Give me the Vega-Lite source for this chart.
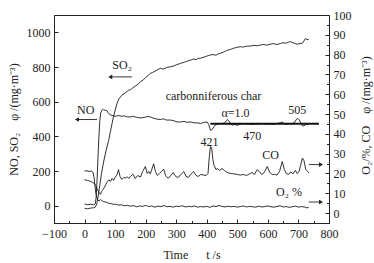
{
  "$schema": "https://vega.github.io/schema/vega-lite/v6.json",
  "width": 275,
  "height": 208,
  "autosize": {"type": "none"},
  "padding": {"left": 54, "top": 15, "right": 45, "bottom": 40},
  "background": "white",
  "config": {
    "view": {"stroke": "#222", "strokeWidth": 1},
    "font": "Liberation Serif",
    "axis": {
      "domainColor": "#222", "tickColor": "#222", "labelColor": "#222", "titleColor": "#222",
      "labelFont": "Liberation Serif", "titleFont": "Liberation Serif",
      "labelFontSize": 12, "titleFontSize": 12, "titleFontWeight": "normal",
      "grid": false, "labelOverlap": false, "labelFlush": false, "labelBound": false
    }
  },
  "datasets": {
    "left": [
      {"s":"SO2","t":0,"v":-15},{"s":"SO2","t":10,"v":-18},{"s":"SO2","t":20,"v":-14},{"s":"SO2","t":30,"v":-12},{"s":"SO2","t":35,"v":-8},{"s":"SO2","t":40,"v":10},{"s":"SO2","t":45,"v":60},{"s":"SO2","t":50,"v":120},{"s":"SO2","t":55,"v":180},{"s":"SO2","t":60,"v":230},{"s":"SO2","t":65,"v":275},{"s":"SO2","t":70,"v":315},{"s":"SO2","t":75,"v":350},{"s":"SO2","t":79,"v":377},{"s":"SO2","t":85,"v":430},{"s":"SO2","t":90,"v":474},{"s":"SO2","t":95,"v":515},{"s":"SO2","t":100,"v":551},{"s":"SO2","t":106,"v":589},{"s":"SO2","t":112,"v":615},{"s":"SO2","t":122,"v":637},{"s":"SO2","t":133,"v":650},{"s":"SO2","t":144,"v":666},{"s":"SO2","t":150,"v":668},{"s":"SO2","t":158,"v":680},{"s":"SO2","t":166,"v":690},{"s":"SO2","t":175,"v":700},{"s":"SO2","t":183,"v":715},{"s":"SO2","t":192,"v":725},{"s":"SO2","t":200,"v":740},{"s":"SO2","t":208,"v":750},{"s":"SO2","t":215,"v":763},{"s":"SO2","t":222,"v":768},{"s":"SO2","t":230,"v":775},{"s":"SO2","t":240,"v":785},{"s":"SO2","t":248,"v":792},{"s":"SO2","t":258,"v":788},{"s":"SO2","t":268,"v":797},{"s":"SO2","t":281,"v":801},{"s":"SO2","t":290,"v":805},{"s":"SO2","t":300,"v":812},{"s":"SO2","t":314,"v":821},{"s":"SO2","t":322,"v":825},{"s":"SO2","t":330,"v":830},{"s":"SO2","t":340,"v":836},{"s":"SO2","t":347,"v":840},{"s":"SO2","t":357,"v":846},{"s":"SO2","t":365,"v":842},{"s":"SO2","t":372,"v":850},{"s":"SO2","t":379,"v":850},{"s":"SO2","t":388,"v":856},{"s":"SO2","t":396,"v":860},{"s":"SO2","t":405,"v":866},{"s":"SO2","t":412,"v":869},{"s":"SO2","t":420,"v":872},{"s":"SO2","t":430,"v":868},{"s":"SO2","t":438,"v":876},{"s":"SO2","t":445,"v":879},{"s":"SO2","t":455,"v":886},{"s":"SO2","t":465,"v":895},{"s":"SO2","t":478,"v":902},{"s":"SO2","t":488,"v":908},{"s":"SO2","t":497,"v":913},{"s":"SO2","t":510,"v":917},{"s":"SO2","t":520,"v":915},{"s":"SO2","t":530,"v":920},{"s":"SO2","t":543,"v":921},{"s":"SO2","t":555,"v":925},{"s":"SO2","t":565,"v":922},{"s":"SO2","t":576,"v":927},{"s":"SO2","t":585,"v":930},{"s":"SO2","t":596,"v":926},{"s":"SO2","t":609,"v":932},{"s":"SO2","t":618,"v":935},{"s":"SO2","t":630,"v":930},{"s":"SO2","t":642,"v":936},{"s":"SO2","t":650,"v":940},{"s":"SO2","t":660,"v":937},{"s":"SO2","t":668,"v":944},{"s":"SO2","t":674,"v":946},{"s":"SO2","t":682,"v":940},{"s":"SO2","t":690,"v":935},{"s":"SO2","t":696,"v":931},{"s":"SO2","t":705,"v":936},{"s":"SO2","t":712,"v":936},{"s":"SO2","t":718,"v":950},{"s":"SO2","t":723,"v":965},{"s":"SO2","t":728,"v":957},{"s":"SO2","t":734,"v":960},
      {"s":"NO","t":0,"v":10},{"s":"NO","t":10,"v":5},{"s":"NO","t":20,"v":8},{"s":"NO","t":30,"v":5},{"s":"NO","t":35,"v":10},{"s":"NO","t":38,"v":50},{"s":"NO","t":41,"v":150},{"s":"NO","t":44,"v":280},{"s":"NO","t":47,"v":400},{"s":"NO","t":50,"v":490},{"s":"NO","t":53,"v":535},{"s":"NO","t":57,"v":551},{"s":"NO","t":62,"v":555},{"s":"NO","t":67,"v":550},{"s":"NO","t":73,"v":548},{"s":"NO","t":78,"v":535},{"s":"NO","t":84,"v":523},{"s":"NO","t":90,"v":521},{"s":"NO","t":100,"v":515},{"s":"NO","t":110,"v":520},{"s":"NO","t":120,"v":516},{"s":"NO","t":130,"v":518},{"s":"NO","t":140,"v":512},{"s":"NO","t":150,"v":512},{"s":"NO","t":160,"v":515},{"s":"NO","t":170,"v":510},{"s":"NO","t":183,"v":506},{"s":"NO","t":195,"v":509},{"s":"NO","t":205,"v":514},{"s":"NO","t":215,"v":512},{"s":"NO","t":225,"v":505},{"s":"NO","t":235,"v":500},{"s":"NO","t":248,"v":497},{"s":"NO","t":258,"v":501},{"s":"NO","t":268,"v":494},{"s":"NO","t":281,"v":494},{"s":"NO","t":292,"v":490},{"s":"NO","t":303,"v":483},{"s":"NO","t":314,"v":483},{"s":"NO","t":325,"v":486},{"s":"NO","t":336,"v":481},{"s":"NO","t":347,"v":483},{"s":"NO","t":358,"v":478},{"s":"NO","t":368,"v":478},{"s":"NO","t":379,"v":474},{"s":"NO","t":390,"v":480},{"s":"NO","t":401,"v":483},{"s":"NO","t":406,"v":470},{"s":"NO","t":412,"v":435},{"s":"NO","t":418,"v":440},{"s":"NO","t":423,"v":455},{"s":"NO","t":428,"v":465},{"s":"NO","t":434,"v":470},{"s":"NO","t":442,"v":474},{"s":"NO","t":450,"v":472},{"s":"NO","t":458,"v":478},{"s":"NO","t":464,"v":490},{"s":"NO","t":467,"v":497},{"s":"NO","t":472,"v":490},{"s":"NO","t":478,"v":470},{"s":"NO","t":485,"v":465},{"s":"NO","t":492,"v":468},{"s":"NO","t":500,"v":464},{"s":"NO","t":510,"v":470},{"s":"NO","t":520,"v":474},{"s":"NO","t":530,"v":470},{"s":"NO","t":540,"v":472},{"s":"NO","t":550,"v":468},{"s":"NO","t":560,"v":472},{"s":"NO","t":570,"v":470},{"s":"NO","t":580,"v":474},{"s":"NO","t":592,"v":470},{"s":"NO","t":605,"v":472},{"s":"NO","t":618,"v":470},{"s":"NO","t":630,"v":474},{"s":"NO","t":640,"v":478},{"s":"NO","t":647,"v":483},{"s":"NO","t":653,"v":474},{"s":"NO","t":660,"v":470},{"s":"NO","t":670,"v":474},{"s":"NO","t":680,"v":472},{"s":"NO","t":688,"v":482},{"s":"NO","t":694,"v":500},{"s":"NO","t":698,"v":503},{"s":"NO","t":703,"v":494},{"s":"NO","t":708,"v":475},{"s":"NO","t":712,"v":462},{"s":"NO","t":718,"v":460},{"s":"NO","t":724,"v":468},{"s":"NO","t":730,"v":472},{"s":"NO","t":734,"v":470}
    ],
    "right": [
      {"s":"CO","t":0,"v":16.8},{"s":"CO","t":10,"v":16.5},{"s":"CO","t":20,"v":16},{"s":"CO","t":30,"v":15.2},{"s":"CO","t":36,"v":14},{"s":"CO","t":42,"v":12},{"s":"CO","t":48,"v":10},{"s":"CO","t":52,"v":9.5},{"s":"CO","t":56,"v":11},{"s":"CO","t":60,"v":11.8},{"s":"CO","t":65,"v":13},{"s":"CO","t":70,"v":14.5},{"s":"CO","t":75,"v":16},{"s":"CO","t":79,"v":16.8},{"s":"CO","t":85,"v":16},{"s":"CO","t":90,"v":17.5},{"s":"CO","t":95,"v":16.5},{"s":"CO","t":100,"v":18},{"s":"CO","t":106,"v":19.3},{"s":"CO","t":111,"v":21.9},{"s":"CO","t":116,"v":18.5},{"s":"CO","t":122,"v":17},{"s":"CO","t":128,"v":18},{"s":"CO","t":133,"v":17.7},{"s":"CO","t":140,"v":18.3},{"s":"CO","t":145,"v":17.5},{"s":"CO","t":150,"v":18.5},{"s":"CO","t":158,"v":19.7},{"s":"CO","t":166,"v":17.5},{"s":"CO","t":174,"v":19},{"s":"CO","t":183,"v":18.2},{"s":"CO","t":190,"v":21},{"s":"CO","t":199,"v":23.5},{"s":"CO","t":205,"v":20},{"s":"CO","t":210,"v":21},{"s":"CO","t":215,"v":19.8},{"s":"CO","t":220,"v":22},{"s":"CO","t":226,"v":24.9},{"s":"CO","t":232,"v":21},{"s":"CO","t":238,"v":19},{"s":"CO","t":245,"v":20},{"s":"CO","t":252,"v":21},{"s":"CO","t":259,"v":22.2},{"s":"CO","t":265,"v":19},{"s":"CO","t":270,"v":18},{"s":"CO","t":275,"v":17.7},{"s":"CO","t":282,"v":19},{"s":"CO","t":290,"v":20.5},{"s":"CO","t":298,"v":18.5},{"s":"CO","t":305,"v":18},{"s":"CO","t":312,"v":18.8},{"s":"CO","t":318,"v":20},{"s":"CO","t":325,"v":21},{"s":"CO","t":332,"v":18.5},{"s":"CO","t":340,"v":18},{"s":"CO","t":347,"v":19.5},{"s":"CO","t":357,"v":21},{"s":"CO","t":365,"v":19},{"s":"CO","t":372,"v":18.5},{"s":"CO","t":380,"v":19.5},{"s":"CO","t":390,"v":19.2},{"s":"CO","t":398,"v":19},{"s":"CO","t":404,"v":20},{"s":"CO","t":408,"v":28},{"s":"CO","t":412,"v":33.6},{"s":"CO","t":416,"v":33},{"s":"CO","t":420,"v":27},{"s":"CO","t":424,"v":24},{"s":"CO","t":430,"v":22},{"s":"CO","t":436,"v":22.5},{"s":"CO","t":442,"v":21.5},{"s":"CO","t":450,"v":22.5},{"s":"CO","t":458,"v":21.5},{"s":"CO","t":467,"v":20.5},{"s":"CO","t":478,"v":20},{"s":"CO","t":489,"v":19.8},{"s":"CO","t":500,"v":19.5},{"s":"CO","t":510,"v":19.2},{"s":"CO","t":520,"v":19.5},{"s":"CO","t":530,"v":19},{"s":"CO","t":540,"v":19.8},{"s":"CO","t":548,"v":20.5},{"s":"CO","t":556,"v":19.5},{"s":"CO","t":565,"v":21.9},{"s":"CO","t":572,"v":21},{"s":"CO","t":580,"v":19.5},{"s":"CO","t":588,"v":20.5},{"s":"CO","t":598,"v":23.5},{"s":"CO","t":606,"v":20.5},{"s":"CO","t":614,"v":19.5},{"s":"CO","t":622,"v":19.5},{"s":"CO","t":630,"v":19.2},{"s":"CO","t":638,"v":21},{"s":"CO","t":647,"v":26},{"s":"CO","t":654,"v":22},{"s":"CO","t":660,"v":20},{"s":"CO","t":668,"v":19.5},{"s":"CO","t":675,"v":20.8},{"s":"CO","t":682,"v":19.8},{"s":"CO","t":690,"v":21.5},{"s":"CO","t":696,"v":20},{"s":"CO","t":702,"v":21},{"s":"CO","t":707,"v":24},{"s":"CO","t":713,"v":27.8},{"s":"CO","t":718,"v":26.5},{"s":"CO","t":724,"v":22},{"s":"CO","t":730,"v":21},{"s":"CO","t":734,"v":20.2},
      {"s":"O2","t":0,"v":21.2},{"s":"O2","t":8,"v":21.4},{"s":"O2","t":15,"v":21.0},{"s":"O2","t":22,"v":21.2},{"s":"O2","t":28,"v":20.5},{"s":"O2","t":31,"v":18},{"s":"O2","t":34,"v":14},{"s":"O2","t":37,"v":10},{"s":"O2","t":40,"v":8},{"s":"O2","t":44,"v":6.5},{"s":"O2","t":48,"v":6.2},{"s":"O2","t":52,"v":6.8},{"s":"O2","t":56,"v":6.4},{"s":"O2","t":62,"v":5.8},{"s":"O2","t":70,"v":5.6},{"s":"O2","t":78,"v":5.0},{"s":"O2","t":86,"v":4.8},{"s":"O2","t":94,"v":4.4},{"s":"O2","t":102,"v":4.5},{"s":"O2","t":110,"v":4.0},{"s":"O2","t":120,"v":4.2},{"s":"O2","t":130,"v":3.7},{"s":"O2","t":140,"v":3.9},{"s":"O2","t":150,"v":3.5},{"s":"O2","t":160,"v":3.8},{"s":"O2","t":170,"v":3.2},{"s":"O2","t":180,"v":3.6},{"s":"O2","t":190,"v":3.4},{"s":"O2","t":200,"v":3.9},{"s":"O2","t":210,"v":3.3},{"s":"O2","t":220,"v":3.6},{"s":"O2","t":230,"v":3.0},{"s":"O2","t":240,"v":3.5},{"s":"O2","t":250,"v":3.3},{"s":"O2","t":260,"v":3.8},{"s":"O2","t":270,"v":3.2},{"s":"O2","t":280,"v":3.4},{"s":"O2","t":290,"v":3.0},{"s":"O2","t":300,"v":3.5},{"s":"O2","t":310,"v":3.3},{"s":"O2","t":320,"v":3.7},{"s":"O2","t":330,"v":3.1},{"s":"O2","t":340,"v":3.4},{"s":"O2","t":350,"v":3.2},{"s":"O2","t":360,"v":3.6},{"s":"O2","t":370,"v":3.0},{"s":"O2","t":380,"v":3.3},{"s":"O2","t":390,"v":3.1},{"s":"O2","t":400,"v":3.4},{"s":"O2","t":410,"v":2.9},{"s":"O2","t":420,"v":3.6},{"s":"O2","t":430,"v":3.3},{"s":"O2","t":440,"v":3.8},{"s":"O2","t":450,"v":3.4},{"s":"O2","t":460,"v":3.1},{"s":"O2","t":470,"v":3.5},{"s":"O2","t":480,"v":3.2},{"s":"O2","t":490,"v":3.4},{"s":"O2","t":500,"v":3.0},{"s":"O2","t":510,"v":3.3},{"s":"O2","t":520,"v":3.6},{"s":"O2","t":530,"v":3.1},{"s":"O2","t":540,"v":3.4},{"s":"O2","t":550,"v":3.2},{"s":"O2","t":560,"v":3.0},{"s":"O2","t":570,"v":3.5},{"s":"O2","t":580,"v":3.1},{"s":"O2","t":590,"v":3.3},{"s":"O2","t":600,"v":3.6},{"s":"O2","t":610,"v":3.2},{"s":"O2","t":620,"v":3.0},{"s":"O2","t":630,"v":3.4},{"s":"O2","t":640,"v":3.7},{"s":"O2","t":650,"v":3.1},{"s":"O2","t":660,"v":3.3},{"s":"O2","t":670,"v":2.9},{"s":"O2","t":680,"v":3.2},{"s":"O2","t":690,"v":3.5},{"s":"O2","t":700,"v":3.0},{"s":"O2","t":710,"v":3.3},{"s":"O2","t":720,"v":3.1},{"s":"O2","t":728,"v":2.6},{"s":"O2","t":734,"v":3.0}
    ],
    "notes": [
      {"label":"SO₂","t":123,"v":811},
      {"label":"NO","t":4,"v":551},
      {"label":"carbonniferous char","t":422,"v":632},
      {"label":"α=1.0","t":494,"v":535},
      {"label":"505","t":696,"v":551},
      {"label":"470","t":549,"v":400},
      {"label":"421","t":409,"v":368},
      {"label":"CO","t":609,"v":291},
      {"label":"O₂ %","t":669,"v":79}
    ],
    "arrows": [
      {"dir":"left","t1":84,"t2":155,"v":743},
      {"dir":"left","t1":-25,"t2":41,"v":497},
      {"dir":"right","t1":734,"t2":774,"v":237},
      {"dir":"right","t1":734,"t2":774,"v":21}
    ],
    "ref": [{"t1":412,"t2":767,"v":472}]
  },
  "layer": [
    {
      "layer": [
        {
          "data": {"name": "left"},
          "mark": {"type": "line", "color": "#1a1a1a", "strokeWidth": 0.9, "interpolate": "linear"},
          "encoding": {
            "x": {"field": "t", "type": "quantitative", "scale": {"domain": [-100, 800], "nice": false},
              "axis": {"orient": "bottom", "title": "Time\u00a0\u00a0\u00a0\u00a0\u00a0\u00a0t /s", "values": [-100,100,300,500,700],
                "format": "d", "labelOverlap": false, "labelFlush": false,
                "tickSize": -4,
                "labelPadding": 9, "titleX": 137.5, "titleY": 31, "titleBaseline": "middle", "titleAlign": "center"}},
            "y": {"field": "v", "type": "quantitative", "scale": {"domain": [-100, 1100], "nice": false},
              "axis": {"title": "NO, SO₂\u00a0\u00a0\u00a0\u00a0φ /(mg·m⁻³)", "values": [0,100,200,300,400,500,600,700,800,900,1000],
                "format": "d", "labelOverlap": false,
                "labelExpr": "datum.value % 200 === 0 ? datum.label : ''",
                "tickSize": {"condition": {"test": "datum.value % 200 === 0", "value": -4}, "value": -2.5},
                "labelPadding": 8, "titleAngle": -90, "titleX": -41, "titleY": 104, "titleBaseline": "middle", "titleAlign": "center"}},
            "detail": {"field": "s"}
          }
        },
        {
          "data": {"name": "arrows"},
          "mark": {"type": "rule", "color": "#222", "strokeWidth": 0.9},
          "encoding": {
            "x": {"field": "t1", "type": "quantitative"},
            "x2": {"field": "t2"},
            "y": {"field": "v", "type": "quantitative"}
          }
        },
        {
          "data": {"name": "arrows"},
          "transform": [{"filter": "datum.dir === 'left'"}],
          "mark": {"type": "point", "shape": "triangle-left", "filled": true, "color": "#222", "size": 22, "opacity": 1},
          "encoding": {
            "x": {"field": "t1", "type": "quantitative"},
            "y": {"field": "v", "type": "quantitative"}
          }
        },
        {
          "data": {"name": "arrows"},
          "transform": [{"filter": "datum.dir === 'right'"}],
          "mark": {"type": "point", "shape": "triangle-right", "filled": true, "color": "#222", "size": 22, "opacity": 1},
          "encoding": {
            "x": {"field": "t2", "type": "quantitative"},
            "y": {"field": "v", "type": "quantitative"}
          }
        },
        {
          "data": {"name": "notes"},
          "mark": {"type": "text", "font": "Liberation Serif", "fontSize": 12, "color": "#222", "align": "center", "baseline": "middle"},
          "encoding": {
            "x": {"field": "t", "type": "quantitative"},
            "y": {"field": "v", "type": "quantitative"},
            "text": {"field": "label"}
          }
        }
      ]
    },
    {
      "data": {"name": "right"},
      "mark": {"type": "line", "color": "#1a1a1a", "strokeWidth": 0.9},
      "encoding": {
        "x": {"field": "t", "type": "quantitative", "scale": {"domain": [-100, 800], "nice": false},
          "axis": {"orient": "bottom", "title": null, "values": [0,200,400,600,800],
            "format": "d", "labelOverlap": false, "labelFlush": false, "domain": false,
            "tickSize": -4, "labelPadding": 9}},
        "y": {"field": "v", "type": "quantitative", "scale": {"domain": [-5, 100], "nice": false},
          "axis": {"orient": "right", "title": "O₂/%, CO\u00a0\u00a0\u00a0\u00a0φ /(mg·m⁻³)", "values": [0,5,10,15,20,25,30,35,40,45,50,55,60,65,70,75,80,85,90,95,100],
            "labelOverlap": false,
            "labelExpr": "datum.value % 10 === 0 ? datum.label : ''",
            "tickSize": {"condition": {"test": "datum.value % 10 === 0", "value": -4}, "value": -2.5},
            "labelPadding": 8, "titleAngle": -90, "titleX": 36, "titleY": 100, "titleBaseline": "middle", "titleAlign": "center"}},
        "detail": {"field": "s"}
      }
    },
    {
      "data": {"name": "ref"},
      "mark": {"type": "rule", "color": "#111", "strokeWidth": 2},
      "encoding": {
        "x": {"field": "t1", "type": "quantitative", "scale": {"domain": [-100, 800], "nice": false},
          "axis": {"orient": "bottom", "title": null, "values": [-50,50,150,250,350,450,550,650,750],
            "labels": false, "domain": false, "tickSize": -2.5}},
        "x2": {"field": "t2"},
        "y": {"field": "v", "type": "quantitative", "scale": {"domain": [-100, 1100], "nice": false}, "axis": null}
      }
    }
  ],
  "resolve": {"scale": {"y": "independent"}, "axis": {"x": "independent"}}
}
